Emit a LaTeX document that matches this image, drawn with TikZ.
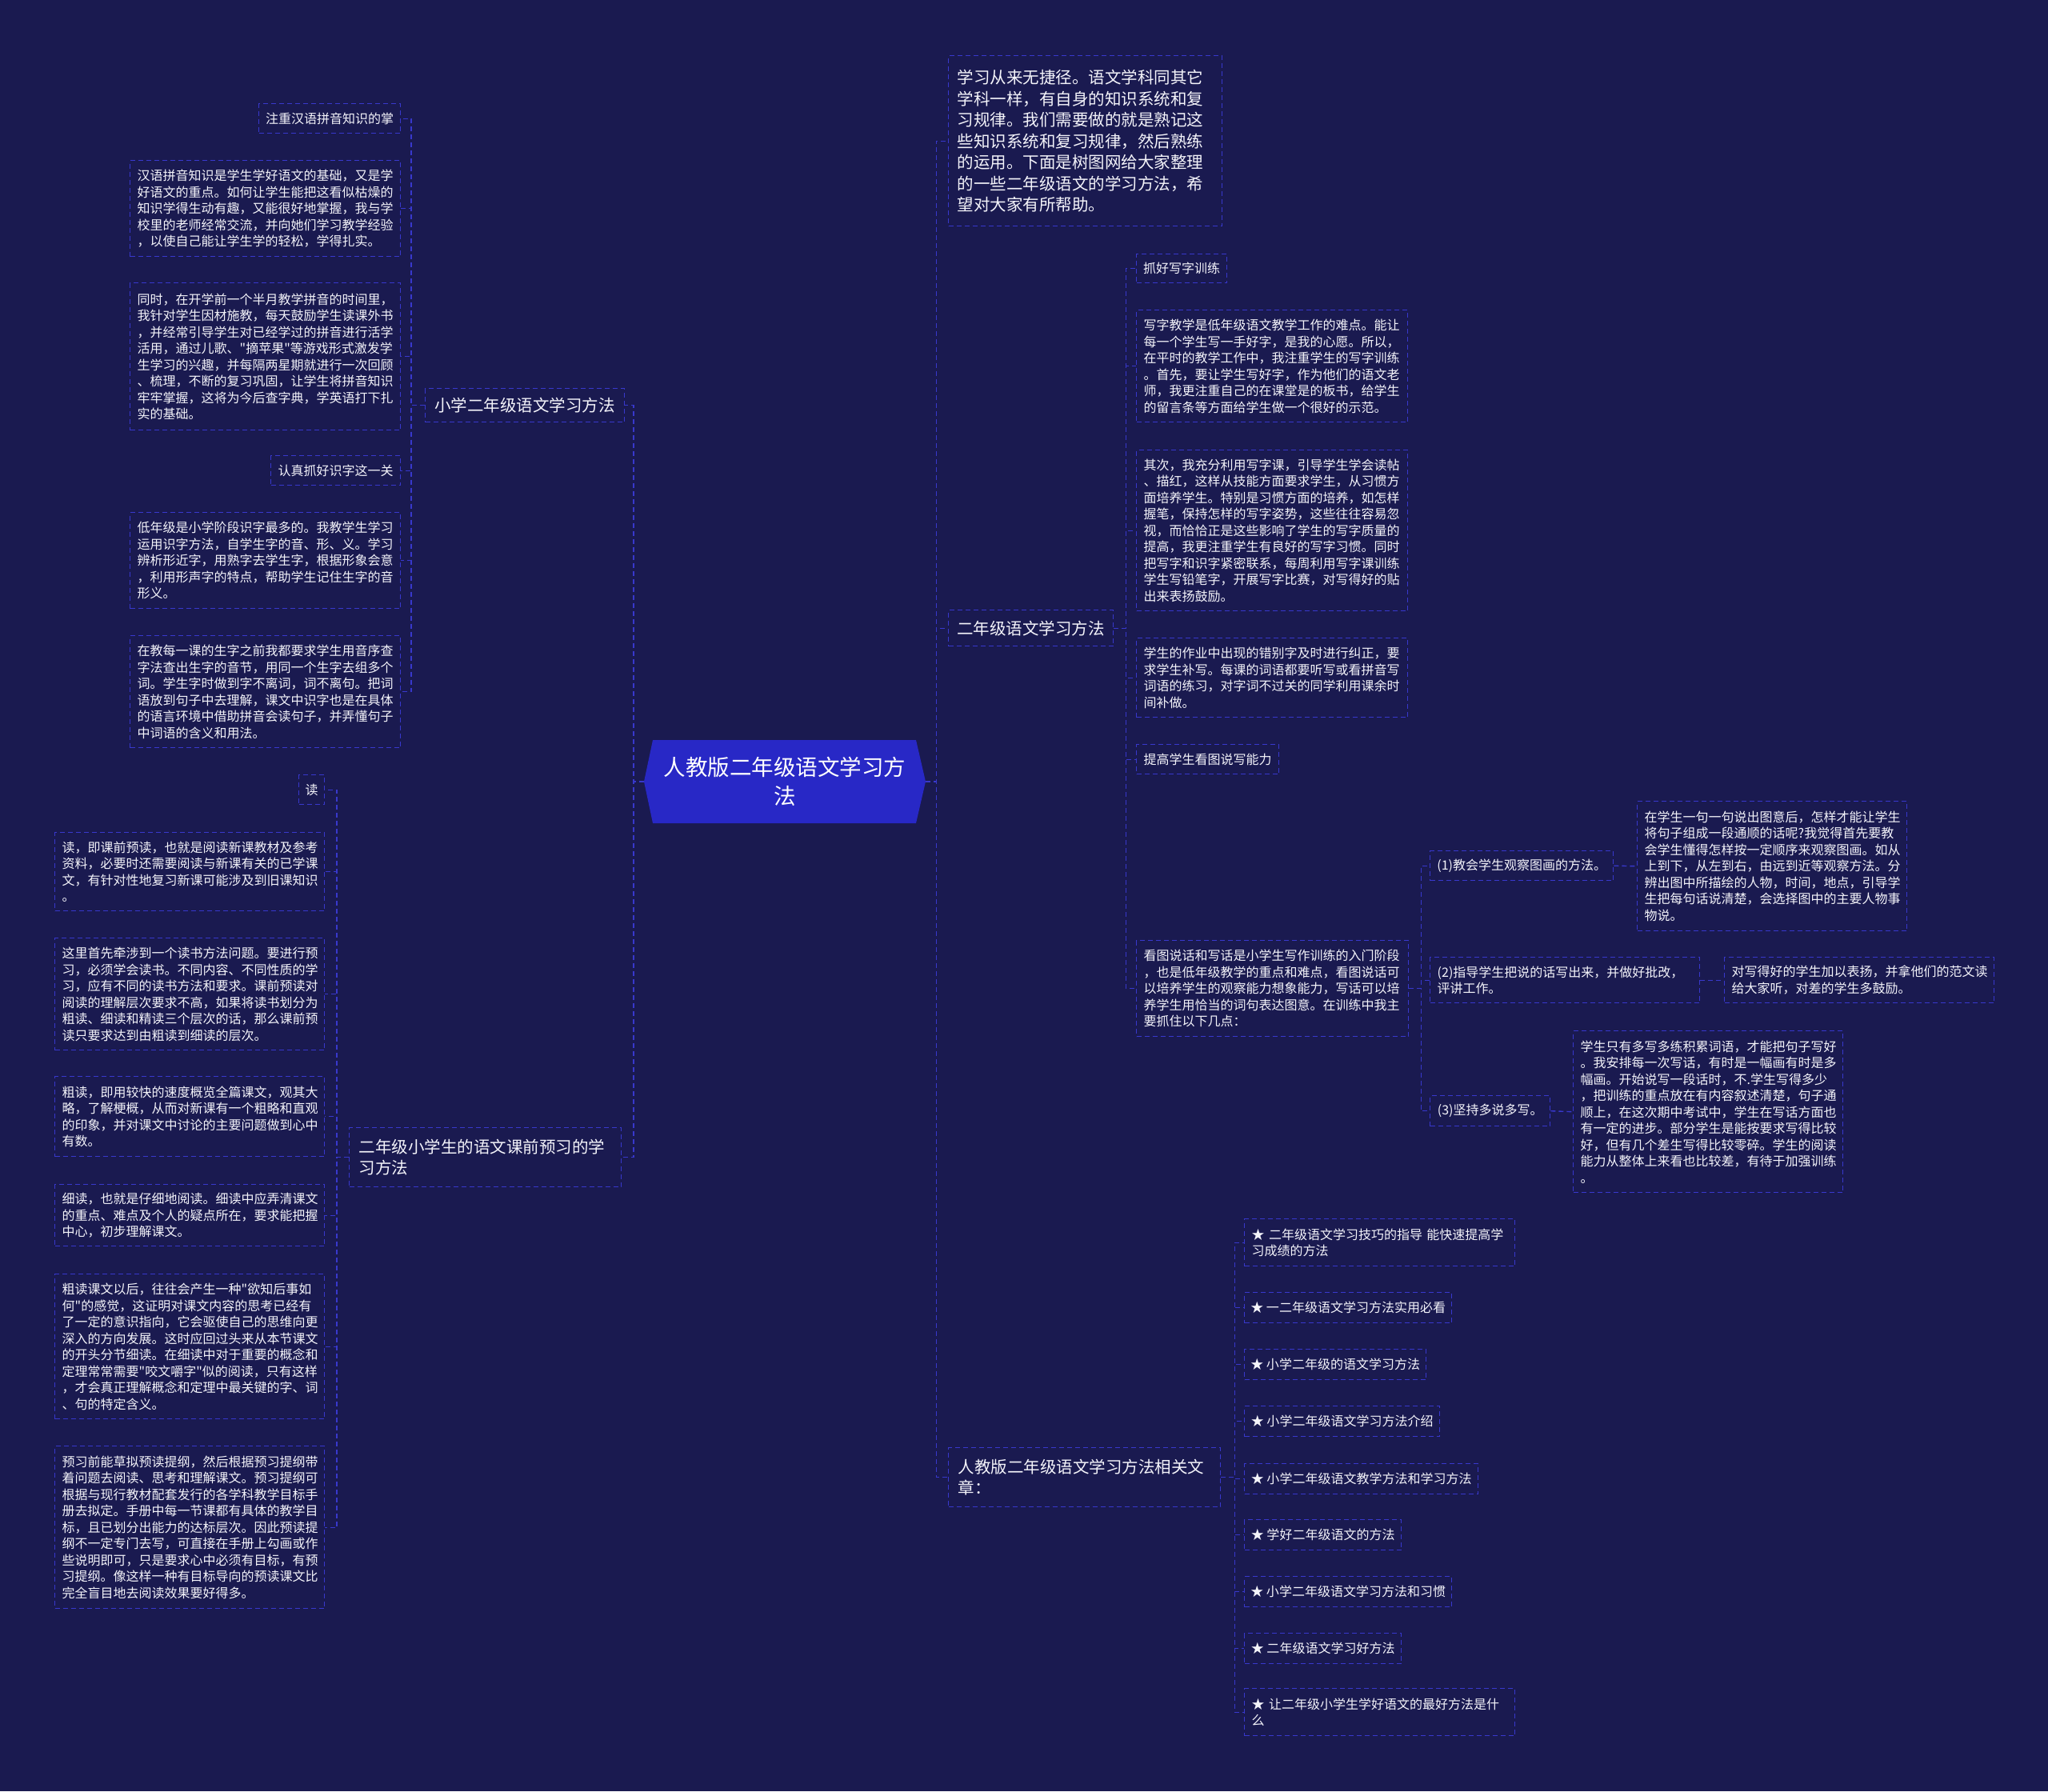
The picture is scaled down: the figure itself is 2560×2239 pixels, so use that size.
\documentclass[tikz,border=0pt]{standalone}
\usepackage{fontspec}
\setmainfont{Noto Sans CJK SC}[Ligatures=TeXOff]
\definecolor{bg}{HTML}{1A1A50}
\definecolor{bord}{HTML}{3838CC}
\definecolor{cfill}{HTML}{2828C6}
\definecolor{txt}{HTML}{F4F4FA}
\newcommand{\fsS}{\fontsize{16pt}{20.5pt}\selectfont}
\newcommand{\fsM}{\fontsize{20.5pt}{26.5pt}\selectfont}
\newcommand{\fsL}{\fontsize{27.5pt}{36pt}\selectfont}
\tikzset{
  dbox/.style={draw=bord, dash pattern=on 6pt off 4pt, line width=1.4pt, text=txt},
  bx/.style={dbox, font=\fsS, align=left, inner xsep=9pt, inner ysep=9pt, anchor=north west},
  tagbox/.style={dbox, font=\fsS, align=center, inner sep=0pt, anchor=north west},
  topicbox/.style={dbox, font=\fsM, align=left, inner xsep=12pt, inner ysep=8pt, anchor=north west},
  conn/.style={draw=bord, dash pattern=on 6pt off 4pt, line width=1.4pt},
}
\begin{document}
\begin{tikzpicture}[x=1pt,y=-1pt]
\fill[bg] (0,0) rectangle (2560,2239);
\useasboundingbox (0,0) rectangle (2560,2239);

% centre
\fill[cfill] (816,925) -- (1145,925) -- (1157,977) -- (1145,1029) -- (816,1029) -- (805,977) -- cycle;
\node[font=\fsL, text=white, align=center, minimum width=352pt, minimum height=104pt, inner sep=0pt] (c) at (981,977) {人教版二年级语文学习方\\法};

% left topics
\node[topicbox, align=center, inner sep=0pt, minimum width=249pt, minimum height=42pt] (L1) at (531,485) {小学二年级语文学习方法};
\node[topicbox, text width=316pt, minimum height=74pt] (L2) at (436,1409) {二年级小学生的语文课前预习的学\\习方法};

% L1 children
\node[tagbox, minimum width=177pt, minimum height=37pt] (L1a) at (323,129) {注重汉语拼音知识的掌};
\node[bx, text width=320pt, minimum height=120pt] (L1b) at (162,200) {汉语拼音知识是学生学好语文的基础，又是学\\好语文的重点。如何让学生能把这看似枯燥的\\知识学得生动有趣，又能很好地掌握，我与学\\校里的老师经常交流，并向她们学习教学经验\\，以使自己能让学生学的轻松，学得扎实。};
\node[bx, text width=320pt, minimum height=184pt] (L1c) at (162,353) {同时，在开学前一个半月教学拼音的时间里，\\我针对学生因材施教，每天鼓励学生读课外书\\，并经常引导学生对已经学过的拼音进行活学\\活用，通过儿歌、"摘苹果"等游戏形式激发学\\生学习的兴趣，并每隔两星期就进行一次回顾\\、梳理，不断的复习巩固，让学生将拼音知识\\牢牢掌握，这将为今后查字典，学英语打下扎\\实的基础。};
\node[tagbox, minimum width=162pt, minimum height=37pt] (L1d) at (338,569) {认真抓好识字这一关};
\node[bx, text width=320pt, minimum height=120pt] (L1e) at (162,640) {低年级是小学阶段识字最多的。我教学生学习\\运用识字方法，自学生字的音、形、义。学习\\辨析形近字，用熟字去学生字，根据形象会意\\，利用形声字的特点，帮助学生记住生字的音\\形义。};
\node[bx, text width=320pt, minimum height=140pt] (L1f) at (162,794) {在教每一课的生字之前我都要求学生用音序查\\字法查出生字的音节，用同一个生字去组多个\\词。学生字时做到字不离词，词不离句。把词\\语放到句子中去理解，课文中识字也是在具体\\的语言环境中借助拼音会读句子，并弄懂句子\\中词语的含义和用法。};

% L2 children
\node[tagbox, minimum width=32pt, minimum height=37pt] (L2a) at (373,968) {读};
\node[bx, text width=319pt, minimum height=98pt] (L2b) at (68,1040) {读，即课前预读，也就是阅读新课教材及参考\\资料，必要时还需要阅读与新课有关的已学课\\文，有针对性地复习新课可能涉及到旧课知识\\。};
\node[bx, text width=319pt, minimum height=140pt] (L2c) at (68,1172) {这里首先牵涉到一个读书方法问题。要进行预\\习，必须学会读书。不同内容、不同性质的学\\习，应有不同的读书方法和要求。课前预读对\\阅读的理解层次要求不高，如果将读书划分为\\粗读、细读和精读三个层次的话，那么课前预\\读只要求达到由粗读到细读的层次。};
\node[bx, text width=319pt, minimum height=100pt] (L2d) at (68,1345) {粗读，即用较快的速度概览全篇课文，观其大\\略，了解梗概，从而对新课有一个粗略和直观\\的印象，并对课文中讨论的主要问题做到心中\\有数。};
\node[bx, text width=319pt, minimum height=77pt] (L2e) at (68,1480) {细读，也就是仔细地阅读。细读中应弄清课文\\的重点、难点及个人的疑点所在，要求能把握\\中心，初步理解课文。};
\node[bx, text width=319pt, minimum height=181pt] (L2f) at (68,1592) {粗读课文以后，往往会产生一种"欲知后事如\\何"的感觉，这证明对课文内容的思考已经有\\了一定的意识指向，它会驱使自己的思维向更\\深入的方向发展。这时应回过头来从本节课文\\的开头分节细读。在细读中对于重要的概念和\\定理常常需要"咬文嚼字"似的阅读，只有这样\\，才会真正理解概念和定理中最关键的字、词\\、句的特定含义。};
\node[bx, text width=319pt, minimum height=203pt] (L2g) at (68,1807) {预习前能草拟预读提纲，然后根据预习提纲带\\着问题去阅读、思考和理解课文。预习提纲可\\根据与现行教材配套发行的各学科教学目标手\\册去拟定。手册中每一节课都有具体的教学目\\标，且已划分出能力的达标层次。因此预读提\\纲不一定专门去写，可直接在手册上勾画或作\\些说明即可，只是要求心中必须有目标，有预\\习提纲。像这样一种有目标导向的预读课文比\\完全盲目地去阅读效果要好得多。};

% right topics
\node[topicbox, text width=320pt, inner xsep=11pt, minimum height=213pt] (R0) at (1185,69) {学习从来无捷径。语文学科同其它\\学科一样，有自身的知识系统和复\\习规律。我们需要做的就是熟记这\\些知识系统和复习规律，然后熟练\\的运用。下面是树图网给大家整理\\的一些二年级语文的学习方法，希\\望对大家有所帮助。};
\node[topicbox, align=center, inner sep=0pt, minimum width=206pt, minimum height=45pt] (R1) at (1185,762) {二年级语文学习方法};
\node[topicbox, text width=316pt, minimum height=74pt] (R2) at (1185,1809) {人教版二年级语文学习方法相关文\\章：};

% R1 children
\node[tagbox, minimum width=113pt, minimum height=36pt] (R1a) at (1420,317) {抓好写字训练};
\node[bx, text width=321pt, minimum height=140pt] (R1b) at (1420,387) {写字教学是低年级语文教学工作的难点。能让\\每一个学生写一手好字，是我的心愿。所以，\\在平时的教学工作中，我注重学生的写字训练\\。首先，要让学生写好字，作为他们的语文老\\师，我更注重自己的在课堂是的板书，给学生\\的留言条等方面给学生做一个很好的示范。};
\node[bx, text width=321pt, minimum height=201pt] (R1c) at (1420,562) {其次，我充分利用写字课，引导学生学会读帖\\、描红，这样从技能方面要求学生，从习惯方\\面培养学生。特别是习惯方面的培养，如怎样\\握笔，保持怎样的写字姿势，这些往往容易忽\\视，而恰恰正是这些影响了学生的写字质量的\\提高，我更注重学生有良好的写字习惯。同时\\把写字和识字紧密联系，每周利用写字课训练\\学生写铅笔字，开展写字比赛，对写得好的贴\\出来表扬鼓励。};
\node[bx, text width=321pt, minimum height=99pt] (R1d) at (1420,797) {学生的作业中出现的错别字及时进行纠正，要\\求学生补写。每课的词语都要听写或看拼音写\\词语的练习，对字词不过关的同学利用课余时\\间补做。};
\node[tagbox, minimum width=178pt, minimum height=37pt] (R1e) at (1420,930) {提高学生看图说写能力};
\node[bx, text width=322pt, minimum height=120pt] (R1f) at (1420,1175) {看图说话和写话是小学生写作训练的入门阶段\\，也是低年级教学的重点和难点，看图说话可\\以培养学生的观察能力想象能力，写话可以培\\养学生用恰当的词句表达图意。在训练中我主\\要抓住以下几点：};

% R1f children
\node[tagbox, minimum width=229pt, minimum height=37pt] (K1) at (1787,1063) {(1)教会学生观察图画的方法。};
\node[bx, text width=319pt, minimum height=162pt] (K1a) at (2046,1001) {在学生一句一句说出图意后，怎样才能让学生\\将句子组成一段通顺的话呢?我觉得首先要教\\会学生懂得怎样按一定顺序来观察图画。如从\\上到下，从左到右，由远到近等观察方法。分\\辨出图中所描绘的人物，时间，地点，引导学\\生把每句话说清楚，会选择图中的主要人物事\\物说。};
\node[bx, text width=319pt, minimum height=57pt] (K2) at (1787,1196) {(2)指导学生把说的话写出来，并做好批改，\\评讲工作。};
\node[bx, text width=319pt, minimum height=57pt] (K2a) at (2155,1196) {对写得好的学生加以表扬，并拿他们的范文读\\给大家听，对差的学生多鼓励。};
\node[tagbox, minimum width=150pt, minimum height=38pt] (K3) at (1787,1369) {(3)坚持多说多写。};
\node[bx, text width=319pt, minimum height=202pt] (K3a) at (1966,1288) {学生只有多写多练积累词语，才能把句子写好\\。我安排每一次写话，有时是一幅画有时是多\\幅画。开始说写一段话时，不.学生写得多少\\，把训练的重点放在有内容叙述清楚，句子通\\顺上，在这次期中考试中，学生在写话方面也\\有一定的进步。部分学生是能按要求写得比较\\好，但有几个差生写得比较零碎。学生的阅读\\能力从整体上来看也比较差，有待于加强训练\\。};

% R2 children
\node[bx, text width=320pt, minimum height=59pt] (S1) at (1555,1523) {★ 二年级语文学习技巧的指导 能快速提高学\\习成绩的方法};
\node[tagbox, minimum width=259pt, minimum height=38pt] (S2) at (1555,1615) {★ 一二年级语文学习方法实用必看};
\node[tagbox, minimum width=227pt, minimum height=38pt] (S3) at (1555,1686) {★ 小学二年级的语文学习方法};
\node[tagbox, minimum width=244pt, minimum height=38pt] (S4) at (1555,1757) {★ 小学二年级语文学习方法介绍};
\node[tagbox, minimum width=292pt, minimum height=38pt] (S5) at (1555,1829) {★ 小学二年级语文教学方法和学习方法};
\node[tagbox, minimum width=196pt, minimum height=38pt] (S6) at (1555,1899) {★ 学好二年级语文的方法};
\node[tagbox, minimum width=259pt, minimum height=38pt] (S7) at (1555,1970) {★ 小学二年级语文学习方法和习惯};
\node[tagbox, minimum width=196pt, minimum height=38pt] (S8) at (1555,2041) {★ 二年级语文学习好方法};
\node[bx, text width=320pt, minimum height=59pt] (S9) at (1555,2110) {★ 让二年级小学生学好语文的最好方法是什\\么};

% connectors
\foreach \n in {L1,L2} \draw[conn] (c.west) -- ++(-13,0) |- (\n.east);
\foreach \n in {R0,R1,R2} \draw[conn] (c.east) -- ++(13,0) |- (\n.west);
\foreach \n in {L1a,L1b,L1c,L1d,L1e,L1f} \draw[conn] (L1.west) -- ++(-17,0) |- (\n.east);
\foreach \n in {L2a,L2b,L2c,L2d,L2e,L2f,L2g} \draw[conn] (L2.west) -- ++(-15,0) |- (\n.east);
\foreach \n in {R1a,R1b,R1c,R1d,R1e,R1f} \draw[conn] (R1.east) -- ++(15,0) |- (\n.west);
\foreach \n in {K1,K2,K3} \draw[conn] (R1f.east) -- ++(15,0) |- (\n.west);
\draw[conn] (K1.east) -- (K1a.west);
\draw[conn] (K2.east) -- (K2a.west);
\draw[conn] (K3.east) -- (K3a.west);
\foreach \n in {S1,S2,S3,S4,S5,S6,S7,S8,S9} \draw[conn] (R2.east) -- ++(17,0) |- (\n.west);
\end{tikzpicture}
\end{document}
